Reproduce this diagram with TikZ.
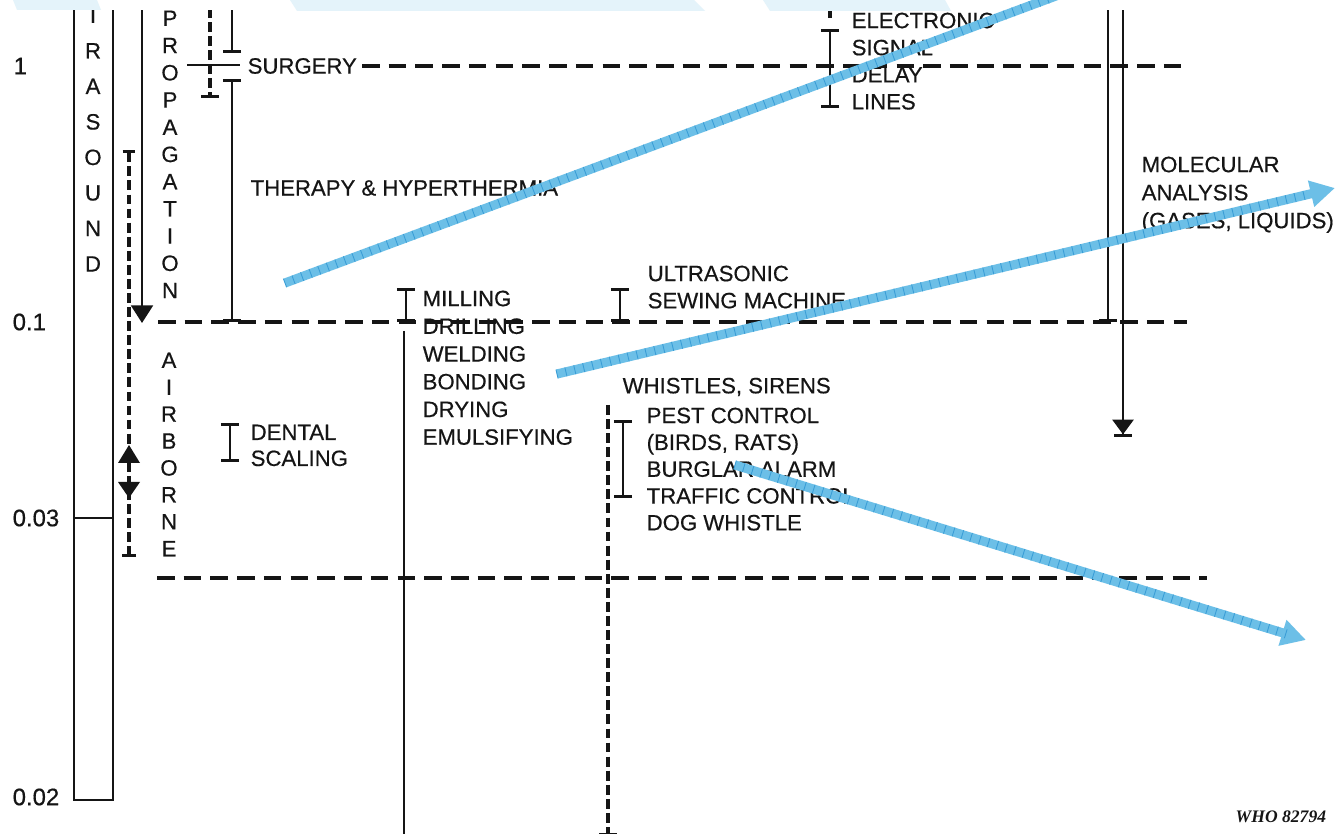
\documentclass[tikz,border=0pt]{standalone}
\usepackage{fontspec}
\setmainfont{Liberation Sans}[FakeBold=0.5]
\newfontfamily\stampfont{Liberation Serif}
\usepackage{xcolor}
\usetikzlibrary{arrows.meta,decorations.markings}
\definecolor{ink}{HTML}{151515}
\definecolor{overlay}{HTML}{6CBFE7}
\definecolor{overlayline}{HTML}{3A9DD6}
\definecolor{band}{HTML}{E4F3FA}
\newcommand{\irange}[3]{%
    % #1=x, #2=top y, #3=bottom y (pixel units)
    \draw[rangebar] (#1,#2) -- (#1,#3);
}

\begin{document}
\begin{tikzpicture}[x=0.01cm, y=-0.01cm,
    lbl/.style={font=\fontsize{6.3}{#1}\selectfont, inner sep=0pt, align=left, text=ink, anchor=north west},
    lbl/.default=7.8,
    vword/.style={font=\fontsize{6.3}{#1}\selectfont, inner sep=0pt, align=center, text=ink, anchor=north},
    axislbl/.style={font=\fontsize{6.8}{8}\selectfont, inner sep=0pt, anchor=west, text=ink},
    frame/.style={draw=ink, line width=0.6pt},
    solidv/.style={draw=ink, line width=0.75pt},
    rangebar/.style={draw=ink, line width=0.75pt, {Bar[width=5.2pt]}-{Bar[width=5.2pt]}},
    guide/.style={draw=ink, line width=0.95pt, dash pattern=on 5pt off 2.6pt},
    dashv/.style={draw=ink, line width=0.9pt, dash pattern=on 2.8pt off 1.2pt},
    hint/.style={draw=overlay, line width=2.6pt, -{Triangle[width=7.2pt,length=7pt]},
        postaction={decorate, decoration={markings,
            mark=between positions 0 and 0.97 step 2.6pt with {\draw[overlayline, line width=0.25pt, -] (0pt,-1.3pt) -- (0pt,1.3pt);}}}}
]
    \useasboundingbox (0,0) rectangle (1340,834);
    \fill[white] (0,0) rectangle (1340,834);

    \begin{scope}
    \clip (0,11) rectangle (1340,834);

    % frequency scale
    \node[axislbl] (f1) at (13,66) {1};
    \node[axislbl] (f01) at (12,322) {0.1};
    \node[axislbl] (f003) at (12,518) {0.03};
    \node[axislbl] (f002) at (12,797) {0.02};

    \draw[frame] (74,8) -- (74,800) -- (113,800) -- (113,8);
    \draw[frame] (74,518) -- (113,518);
    \node[vword=10.1pt] (ultra) at (93,7) {T\\R\\A\\S\\O\\U\\N\\D};

    % propagation arrows
    \draw[solidv, -{Triangle[width=6.2pt,length=5pt]}] (142,8) -- (142,323);
    \draw[dashv, {Bar[width=3.6pt]}-{Bar[width=4pt]}] (129,150) -- (129,557);
    \fill[ink] (118,463) -- (140,463) -- (129,445) -- cycle;
    \fill[ink] (118,482) -- (140,482) -- (129,498) -- cycle;
    \node[vword=7.74pt] (prop) at (170,10) {P\\R\\O\\P\\A\\G\\A\\T\\I\\O\\N};
    \node[vword=7.65pt] (air) at (169,352) {A\\I\\R\\B\\O\\R\\N\\E};

    % decade lines
    \draw[guide] (362,66) -- (1187,66);
    \draw[guide] (158,322) -- (1187,322);
    \draw[guide] (157,578) -- (1207,578);

    % medical
    \draw[dashv, -{Bar[width=5pt]}] (210,8) -- (210,98);
    \draw[solidv, -{Bar[width=5.2pt]}] (232,8) -- (232,53);
    \draw[solidv] (187,65) -- (240,65);
    \node[lbl, anchor=west] (surg) at (247,66) {SURGERY};
    \irange{232}{79}{322}
    \node[lbl, anchor=west] (ther) at (250,188) {THERAPY \& HYPERTHERMIA};
    \irange{230}{423}{462}
    \node[lbl=7.4pt] (dent) at (250,424) {DENTAL\\SCALING};

    % industrial
    \irange{406}{288}{322}
    \draw[solidv] (404,331) -- (404,840);
    \node[lbl=7.88pt] (mill) at (422,290) {MILLING\\DRILLING\\WELDING\\BONDING\\DRYING\\EMULSIFYING};
    \irange{620}{288}{322}
    \node[lbl=7.7pt] (sew) at (647,265) {ULTRASONIC\\SEWING MACHINE};

    % airborne devices
    \node[lbl, anchor=west] (whis) at (622,387) {WHISTLES, SIRENS};
    \draw[dashv, -{Bar[width=5pt]}] (608,405) -- (608,836);
    \irange{623}{420}{498}
    \node[lbl=7.62pt] (pest) at (646,407) {PEST CONTROL\\(BIRDS, RATS)\\BURGLAR ALARM\\TRAFFIC CONTROL\\DOG WHISTLE};

    % electronics and analysis
    \draw[dashv] (830,8) -- (830,22);
    \irange{830}{29}{108}
    \node[lbl=7.7pt] (delay) at (851,12) {ELECTRONIC\\SIGNAL\\DELAY\\LINES};
    \draw[solidv, -{Bar[width=5pt]}] (1108,8) -- (1108,322);
    \draw[solidv, -{Triangle[width=6pt,length=4.2pt] Bar[width=5pt]}] (1123,8) -- (1123,437);
    \node[lbl=7.97pt] (mol) at (1141,156) {MOLECULAR\\ANALYSIS\\(GASES, LIQUIDS)};

    \node[font=\stampfont\bfseries\itshape\fontsize{5}{6}\selectfont, inner sep=0pt, anchor=west, text=ink] (who) at (1235,817) {WHO 82794};
    \end{scope}

    % overlay marks
    \fill[band] (13,0) -- (97,0) -- (101,10) -- (17,10) -- cycle;
    \fill[band] (290,0) -- (694,0) -- (705,11) -- (297,11) -- cycle;
    \fill[band] (763,0) -- (945,0) -- (951,11) -- (770,11) -- cycle;
    \coordinate (h1a) at (285,283);
    \coordinate (h1b) at (1072,-10);
    \coordinate (h2a) at (557,374);
    \coordinate (h2b) at (1335,188);
    \coordinate (h3a) at (735,465);
    \coordinate (h3b) at (1306,640);
    \draw[hint, -] (h1a) -- (h1b);
    \draw[hint] (h2a) -- (h2b);
    \draw[hint] (h3a) -- (h3b);
\end{tikzpicture}
\end{document}
